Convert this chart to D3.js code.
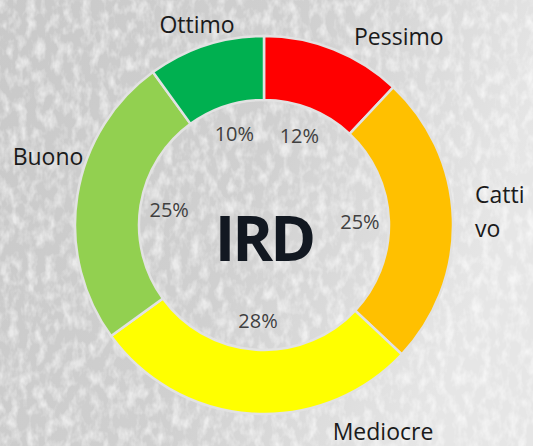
<!DOCTYPE html>
<html>
<head>
<meta charset="utf-8">
<script src="https://cdn.jsdelivr.net/npm/d3@7"></script>
<style>
  html, body { margin: 0; padding: 0; }
  body { width: 533px; height: 446px; overflow: hidden; }
  text { font-family: "Open Sans", "Noto Sans", sans-serif; }
</style>
</head>
<body>
<svg id="chart" width="533" height="446"></svg>
<script>
// data
var categories = ["Pessimo", "Cattivo", "Mediocre", "Buono", "Ottimo"];
var values = [12, 25, 28, 25, 10];
var colors = ["#ff0000", "#ffc000", "#ffff00", "#92d050", "#00b050"];
var centerLabel = "IRD";

// outer label placement (layout, not data)
var labelLayout = {
    "Pessimo":  { x: 354, y: 45, anchor: "start", lines: ["Pessimo"] },
    "Cattivo":  { x: 475, y: 203, anchor: "start", lines: ["Catti", "vo"] },
    "Mediocre": { x: 383, y: 440, anchor: "middle", lines: ["Mediocre"] },
    "Buono":    { x: 48, y: 165, anchor: "middle", lines: ["Buono"] },
    "Ottimo":   { x: 197, y: 33, anchor: "middle", lines: ["Ottimo"] }
};

var width = 533, height = 446;
var cx = 264, cy = 225;
var outerR = 189, innerR = 125;

var svg = d3.select("#chart");
var defs = svg.append("defs");

// background: grey gradient + noise texture
var grad = defs.append("linearGradient").attr("id", "bg")
    .attr("x1", 0).attr("y1", 0).attr("x2", 1).attr("y2", 0.3);
grad.append("stop").attr("offset", "0%").attr("stop-color", "#c9c9c9");
grad.append("stop").attr("offset", "55%").attr("stop-color", "#d0d0d0");
grad.append("stop").attr("offset", "100%").attr("stop-color", "#e6e6e6");

var filt = defs.append("filter").attr("id", "grain")
    .attr("x", 0).attr("y", 0).attr("width", "100%").attr("height", "100%");
filt.append("feTurbulence").attr("type", "fractalNoise")
    .attr("baseFrequency", "0.11 0.07").attr("numOctaves", 3).attr("seed", 4)
    .attr("result", "noise");
filt.append("feColorMatrix").attr("in", "noise").attr("type", "matrix")
    .attr("values", "0 0 0 0 1  0 0 0 0 1  0 0 0 0 1  2.4 0 0 0 -1.0")
    .attr("result", "spots");
filt.append("feComposite").attr("in", "spots").attr("in2", "SourceGraphic")
    .attr("operator", "in");

svg.append("rect").attr("width", width).attr("height", height).attr("fill", "url(#bg)");
svg.append("rect").attr("width", width).attr("height", height)
    .attr("fill", "#ffffff").attr("opacity", 0.6).attr("filter", "url(#grain)");

var g = svg.append("g").attr("transform", "translate(" + cx + "," + cy + ")");

var pie = d3.pie().sort(null).value(function(d) { return d; });
var arc = d3.arc().innerRadius(innerR).outerRadius(outerR);
var labelArc = d3.arc().innerRadius(96).outerRadius(96);

var arcs = pie(values);

g.selectAll("path.slice")
    .data(arcs)
    .enter().append("path")
    .attr("class", "slice")
    .attr("d", arc)
    .attr("fill", function(d, i) { return colors[i]; })
    .attr("stroke", "#e2e2e2")
    .attr("stroke-width", 2.5);

g.selectAll("text.pct")
    .data(arcs)
    .enter().append("text")
    .attr("class", "pct")
    .attr("transform", function(d) { return "translate(" + labelArc.centroid(d) + ")"; })
    .attr("text-anchor", "middle")
    .attr("dy", "0.35em")
    .style("font-size", "20px")
    .style("fill", "#404040")
    .text(function(d) { return d.data + "%"; });

g.append("text")
    .attr("x", 0).attr("y", 36)
    .attr("text-anchor", "middle")
    .style("font-size", "62px")
    .style("font-weight", "bold")
    .style("letter-spacing", "-3px")
    .style("fill", "#121821")
    .text(centerLabel);

categories.forEach(function(c) {
    var L = labelLayout[c];
    var t = svg.append("text")
        .attr("x", L.x).attr("y", L.y)
        .attr("text-anchor", L.anchor)
        .style("font-size", "23px")
        .style("fill", "#1a1a1a");
    L.lines.forEach(function(line, i) {
        t.append("tspan").attr("x", L.x).attr("dy", i === 0 ? 0 : 34).text(line);
    });
});
</script>
</body>
</html>
